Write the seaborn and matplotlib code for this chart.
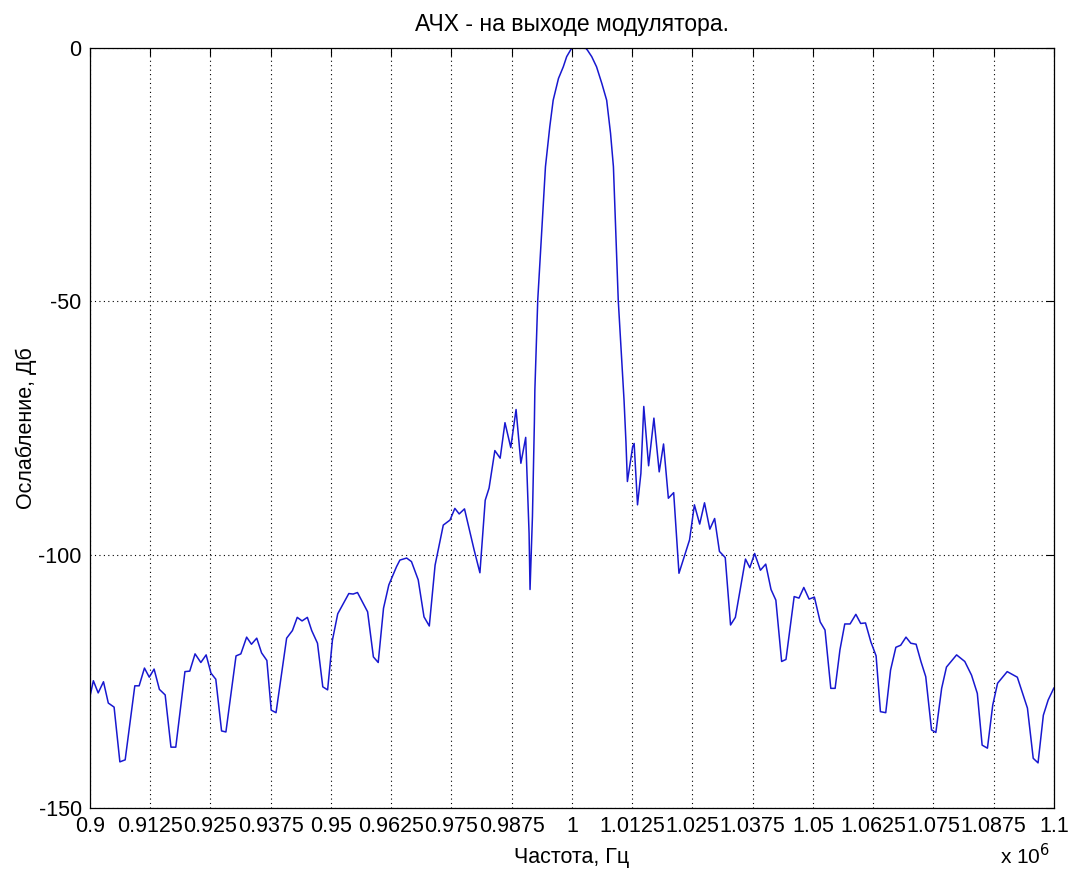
import numpy as np
import matplotlib
matplotlib.use("Agg")
import matplotlib.pyplot as plt
import seaborn as sns

# frequency in units of 1e6 Hz, attenuation in dB
freq = [0.9000, 0.9007, 0.9017, 0.9028, 0.9038, 0.9050, 0.9062, 0.9073, 0.9093, 0.9102,
        0.9113, 0.9123, 0.9133, 0.9144, 0.9156, 0.9168, 0.9178, 0.9197, 0.9207, 0.9218,
        0.9230, 0.9241, 0.9251, 0.9261, 0.9273, 0.9282, 0.9303, 0.9313, 0.9325, 0.9335,
        0.9346, 0.9356, 0.9367, 0.9376, 0.9386, 0.9408, 0.9420, 0.9430, 0.9440, 0.9451,
        0.9460, 0.9472, 0.9483, 0.9493, 0.9503, 0.9514, 0.9526, 0.9537, 0.9546, 0.9555,
        0.9576, 0.9588, 0.9598, 0.9609, 0.9620, 0.9636, 0.9643, 0.9657, 0.9667, 0.9681,
        0.9693, 0.9704, 0.9716, 0.9733, 0.9747, 0.9757, 0.9766, 0.9777, 0.9797, 0.9809,
        0.9820, 0.9828, 0.9840, 0.9851, 0.9861, 0.9873, 0.9884, 0.9894, 0.9904, 0.9908,
        0.9911, 0.9913, 0.9918, 0.9920, 0.9922, 0.9923, 0.9929, 0.9937, 0.9945, 0.9954,
        0.9961, 0.9972, 0.9982, 0.9989, 0.9997, 1.0001, 1.0014, 1.0027, 1.0032, 1.0041,
        1.0051, 1.0062, 1.0072, 1.0080, 1.0086, 1.0091, 1.0096, 1.0108,
        1.0112, 1.0115, 1.0126, 1.0129, 1.0136, 1.0143, 1.0149, 1.0159, 1.0170, 1.0181,
        1.0190, 1.0200, 1.0211, 1.0222, 1.0244, 1.0254, 1.0265, 1.0275, 1.0286, 1.0296,
        1.0306, 1.0318, 1.0329, 1.0339, 1.0360, 1.0369, 1.0379, 1.0391, 1.0402, 1.0413,
        1.0423, 1.0435, 1.0444, 1.0461, 1.0471, 1.0481, 1.0492, 1.0503, 1.0515, 1.0525,
        1.0537, 1.0546, 1.0556, 1.0566, 1.0577, 1.0589, 1.0599, 1.0609, 1.0620, 1.0631,
        1.0640, 1.0651, 1.0661, 1.0672, 1.0682, 1.0693, 1.0703, 1.0714, 1.0724, 1.0734,
        1.0746, 1.0755, 1.0767, 1.0777, 1.0798, 1.0815, 1.0829, 1.0841, 1.0851, 1.0862,
        1.0873, 1.0883, 1.0903, 1.0924, 1.0945, 1.0957, 1.0967, 1.0978, 1.0988, 1.1000]

att_db = [-128.0, -124.9, -127.3, -125.1, -129.3, -130.1, -140.9, -140.5, -125.9, -125.9,
          -122.4, -124.2, -122.6, -126.6, -127.7, -138.0, -138.0, -123.1, -123.0, -119.6,
          -121.3, -119.8, -123.4, -124.6, -134.8, -135.0, -120.0, -119.6, -116.3, -117.7,
          -116.5, -119.4, -120.9, -130.7, -131.2, -116.5, -115.0, -112.4, -113.1, -112.4,
          -115.0, -117.5, -126.1, -126.7, -116.9, -111.7, -109.6, -107.7, -107.8, -107.5,
          -111.3, -120.2, -121.3, -110.6, -106.0, -102.4, -101.1, -100.7, -101.4, -105.0,
          -112.3, -114.1, -102.1, -94.2, -93.2, -90.9, -92.0, -91.0, -99.1, -103.6,
          -89.3, -86.9, -79.5, -81.0, -74.0, -78.9, -71.4, -82.0, -76.9, -87.9,
          -95.8, -106.9, -92.5, -83.3, -74.0, -67.6, -49.8, -36.6, -23.5, -15.6,
          -10.4, -6.1, -3.8, -1.8, -0.5, 0.0, 0.0, 0.0, -0.5, -1.8,
          -3.8, -7.1, -10.4, -16.9, -23.5, -36.6, -49.8, -69.5,
          -77.8, -85.6, -78.7, -78.1, -90.2, -84.0, -70.8, -82.5, -73.1, -83.7,
          -78.2, -88.9, -87.8, -103.7, -97.1, -90.2, -94.0, -89.8, -95.0, -92.9,
          -99.4, -100.6, -113.9, -112.4, -100.9, -102.6, -99.8, -103.1, -101.9, -106.9,
          -109.0, -121.1, -120.7, -108.3, -108.6, -106.5, -108.8, -108.4, -113.3, -114.9,
          -126.4, -126.4, -118.8, -113.7, -113.7, -111.8, -113.6, -113.5, -117.2, -120.0,
          -131.0, -131.2, -122.8, -118.3, -117.9, -116.3, -117.5, -117.7, -121.1, -124.1,
          -134.6, -135.1, -126.4, -122.2, -119.8, -121.1, -123.8, -127.4, -137.6, -138.2,
          -129.7, -125.4, -123.1, -124.2, -130.3, -140.2, -141.1, -131.7, -128.7, -126.3]

x_ticks = [0.9, 0.9125, 0.925, 0.9375, 0.95, 0.9625, 0.975, 0.9875, 1.0,
           1.0125, 1.025, 1.0375, 1.05, 1.0625, 1.075, 1.0875, 1.1]
y_ticks = [-150, -100, -50, 0]

sns.set_style("white")
plt.rcParams['font.family'] = ['Liberation Sans', 'DejaVu Sans']
plt.rcParams['text.color'] = 'black'
plt.rcParams['axes.labelcolor'] = 'black'

fig = plt.figure(figsize=(10.7, 8.72), dpi=100)
ax = fig.add_axes([0.0841, 0.0734, 0.9009, 0.8721])

sns.lineplot(x=freq, y=att_db, ax=ax, color='#1818d0', linewidth=1.1,
             estimator=None, sort=False)

ax.set_xlim(0.9, 1.1)
ax.set_ylim(-150, 0)
ax.set_xticks(x_ticks)
ax.set_xticklabels(['%g' % t for t in x_ticks])
ax.set_yticks(y_ticks)
ax.set_yticklabels(['%g' % t for t in y_ticks])

ax.grid(True, color='black', linestyle=(0, (1, 3)), linewidth=0.8)
for sp in ax.spines.values():
    sp.set_visible(True)
    sp.set_color('black')
    sp.set_linewidth(0.9)
ax.tick_params(direction='in', length=6, width=0.8, top=True, right=True,
               labelsize=15.5, colors='black')
ax.tick_params(axis='x', pad=6)
ax.tick_params(axis='y', pad=6)

ax.set_title('АЧХ - на выходе модулятора.', fontsize=16.5, pad=12, color='black')
ax.set_xlabel('Частота, Гц', fontsize=15.5, labelpad=7)
ax.set_ylabel('Ослабление, Дб', fontsize=15.5, labelpad=1)
fig.text(0.958, 0.009, r'x 10$^{6}$', fontsize=15, ha='center')

fig.savefig('out.png', dpi=100)
